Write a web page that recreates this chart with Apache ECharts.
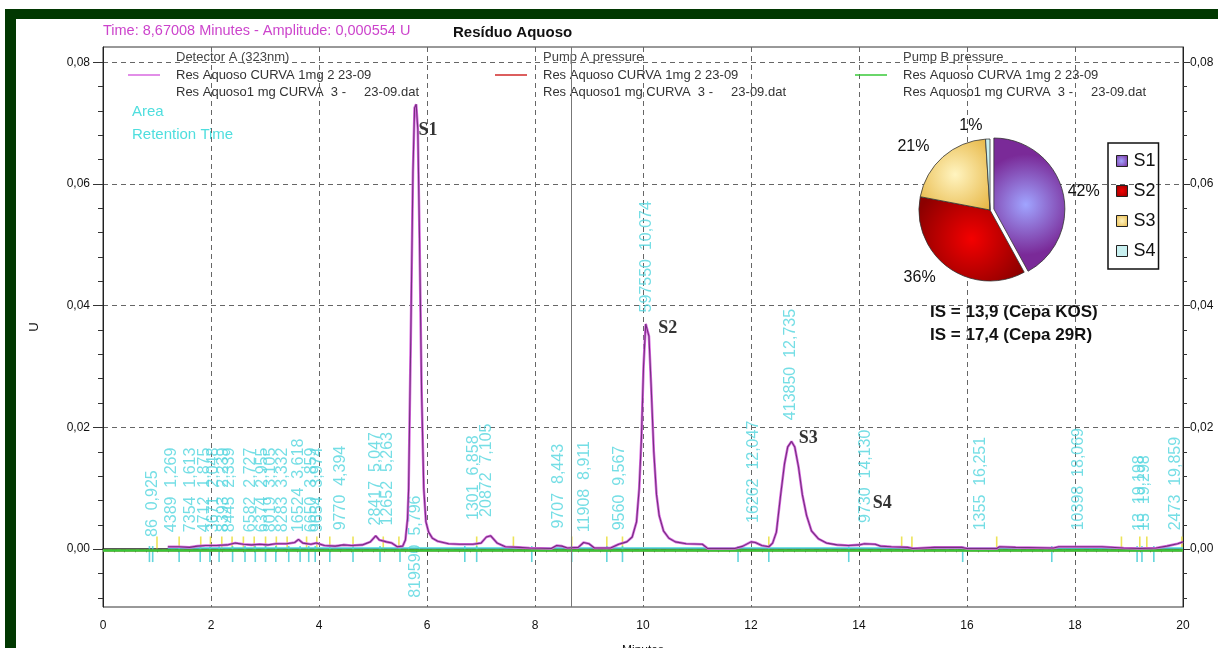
<!DOCTYPE html>
<html>
<head>
<meta charset="utf-8">
<title>Resíduo Aquoso</title>
<script src="https://cdn.jsdelivr.net/npm/echarts@6/dist/echarts.min.js"></script>
<style>
  html, body { margin: 0; padding: 0; background: #fff; }
  #app { width: 1218px; height: 648px; }
</style>
</head>
<body>
<div id="app"></div>
<script>
// chromatogram trace (minutes / U)
const traceTimes = [
  1.20, 1.40, 1.60, 1.75, 1.90, 2.10, 2.30, 2.45, 2.60, 2.75, 2.90, 3.05, 3.20, 3.40, 3.55, 3.62,
  3.70, 3.85, 3.95, 4.10, 4.30, 4.45, 4.60, 4.80, 4.95, 5.05, 5.12, 5.25, 5.35, 5.45, 5.55, 5.60,
  5.64, 5.66, 5.70, 5.74, 5.77, 5.80, 5.83, 5.86, 5.90, 5.94, 5.98, 6.03, 6.10, 6.20, 6.40, 6.60,
  6.85, 7.00, 7.10, 7.18, 7.30, 7.45, 7.70, 7.90, 8.30, 8.40, 8.50, 8.60, 8.80, 8.90, 9.00, 9.10,
  9.40, 9.55, 9.70, 9.80, 9.88, 9.93, 9.97, 10.01, 10.05, 10.08, 10.11, 10.15, 10.20, 10.25, 10.30, 10.38,
  10.48, 10.60, 10.80, 11.10, 11.20, 11.70, 11.85, 12.00, 12.08, 12.20, 12.33, 12.40, 12.47, 12.55, 12.62, 12.68,
  12.75, 12.81, 12.88, 12.95, 13.03, 13.12, 13.25, 13.40, 13.60, 13.80, 14.00, 14.10, 14.30, 14.40, 14.60, 14.90,
  15.00, 15.40, 15.90, 16.00, 16.55, 16.60, 16.90, 17.60, 17.70, 18.50, 18.90, 19.20, 19.50, 19.70, 19.90, 20.00
];
const traceValues = [
  0.0004, 0.0004, 0.0003, 0.0005, 0.0006, 0.0006, 0.0007, 0.0010, 0.0008, 0.0007, 0.0008, 0.0007, 0.0009, 0.0009, 0.0011, 0.0016,
  0.0010, 0.0008, 0.0010, 0.0006, 0.0005, 0.0007, 0.0006, 0.0007, 0.0012, 0.0022, 0.0015, 0.0012, 0.0010, 0.0004, 0.0005, 0.0015,
  0.0050, 0.0100, 0.0350, 0.0620, 0.0725, 0.0731, 0.0690, 0.0520, 0.0260, 0.0100, 0.0045, 0.0028, 0.0018, 0.0013, 0.0009, 0.0008,
  0.0008, 0.0010, 0.0020, 0.0022, 0.0010, 0.0004, 0.0003, 0.0002, 0.0001, 0.0006, 0.0005, 0.0002, 0.0003, 0.0011, 0.0009, 0.0002,
  0.0002, 0.0008, 0.0012, 0.0020, 0.0045, 0.0100, 0.0180, 0.0300, 0.0370, 0.0372, 0.0350, 0.0270, 0.0160, 0.0090, 0.0055, 0.0030,
  0.0018, 0.0012, 0.0009, 0.0008, 0.0001, 0.0001, 0.0005, 0.0012, 0.0011, 0.0006, 0.0004, 0.0010, 0.0028, 0.0090, 0.0140, 0.0168,
  0.0177, 0.0168, 0.0135, 0.0090, 0.0055, 0.0030, 0.0017, 0.0010, 0.0007, 0.0006, 0.0007, 0.0009, 0.0008, 0.0005, 0.0004, 0.0003,
  0.0001, 0.0003, 0.0003, 0.0001, 0.0001, 0.0004, 0.0003, 0.0002, 0.0004, 0.0004, 0.0002, 0.0001, 0.0002, 0.0005, 0.0009, 0.0012
];

// pump pressure traces (flat, pump A hidden under pump B)
const pumpTimes = [0, 20];
const pumpAValues = [-0.0002, -0.0002];
const pumpBValues = [-0.0002, -0.0002];

// integration baseline
const baselineTimes = [1.2, 20];
const baselineValues = [0.0002, 0.0002];

// peak table: retention time, area, height where the label starts
const peakTimes = [0.925, 1.269, 1.613, 1.875, 2.048, 2.239, 2.339, 2.727, 2.955, 3.105, 3.332, 3.618,
  3.859, 3.974, 4.394, 5.047, 5.263, 5.796, 6.858, 7.105, 8.443, 8.911, 9.567, 10.074, 12.047,
  12.735, 14.130, 16.251, 18.069, 19.198, 19.298, 19.859];
const peakAreas = [86, 4389, 7354, 4712, 3671, 8393, 8445, 6582, 6374, 8019, 8283, 16524,
  6650, 9654, 9770, 28417, 12652, 819590, 1301, 20872, 9707, 11908, 9560, 597550, 16262,
  413850, 9730, 1355, 10398, 13, 15, 2473];
const peakLabelBase = [0.0020, 0.0028, 0.0028, 0.0028, 0.0028, 0.0028, 0.0028, 0.0028, 0.0028, 0.0028, 0.0028, 0.0028,
  0.0028, 0.0028, 0.0031, 0.0039, 0.0039, -0.0080, 0.0048, 0.0053, 0.0034, 0.0028, 0.0031, 0.0389, 0.0043,
  0.0212, 0.0043, 0.0031, 0.0031, 0.0030, 0.0030, 0.0031];

// integration marks
const peakStartMarks = [1.00, 1.41, 1.81, 1.99, 2.20, 2.39, 2.60, 2.80, 3.01, 3.21, 3.41, 3.77, 3.96, 4.20,
  4.63, 5.19, 5.48, 6.92, 7.60, 8.68, 9.33, 9.62, 12.33, 14.79, 14.98, 16.55, 18.86, 19.20, 19.33, 19.98];
const peakEndMarks = [0.86, 0.92, 1.41, 1.80, 1.98, 2.15, 2.40, 2.63, 2.82, 3.01, 3.20, 3.44, 3.65, 3.81,
  3.93, 4.20, 4.63, 5.13, 5.50, 6.70, 6.92, 7.94, 8.68, 9.33, 9.62, 11.76, 12.33, 13.81, 15.92, 17.57,
  19.15, 19.24, 19.46];

// named peaks
const tagNames = ['S1', 'S2', 'S3', 'S4'];
const tagTimes = [6.02, 10.46, 13.06, 14.43];
const tagLevels = [0.0688, 0.0363, 0.0182, 0.0076];

// pie of peak shares
const pieNames = ['S1', 'S2', 'S3', 'S4'];
const piePercents = [42, 36, 21, 1];

// axis ticks
const yMajor = [0, 0.02, 0.04, 0.06, 0.08];
const yMinor = [-0.008, -0.004, 0, 0.004, 0.008, 0.012, 0.016, 0.02, 0.024, 0.028, 0.032, 0.036,
  0.04, 0.044, 0.048, 0.052, 0.056, 0.06, 0.064, 0.068, 0.072, 0.076, 0.08];

const cursorTime = 8.67008;
const cursorAmplitude = 0.000554;

const comma = (v, d) => v.toFixed(d).replace('.', ',');
const pair = (xs, ys) => xs.map((x, i) => [x, ys[i]]);

const FONT = 'Liberation Sans';
const Y_MIN = -0.0095, Y_MAX = 0.0825;

const legendText = function(name) {
  return '{h|' + name + '}\n{t|Res Aquoso CURVA 1mg 2 23-09}\n{t|Res Aquoso1 mg CURVA  3 -     23-09.dat}';
};
const legendRich = {
  h: { fontFamily: FONT, fontSize: 13, color: '#444', lineHeight: 17.5 },
  t: { fontFamily: FONT, fontSize: 13, color: '#333', lineHeight: 17.5 }
};
function lineLegend(name, left) {
  return {
    data: [name], left: left, top: 51, padding: 0, itemWidth: 32, itemHeight: 10,
    icon: 'path://M0,5 L32,5 L32,6.5 L0,6.5 Z',
    formatter: legendText,
    textStyle: { rich: legendRich, padding: [0, 0, 0, 11] },
    selectedMode: false
  };
}

function yAxisPart(pos, ticks, labels, len) {
  return {
    type: 'value', position: pos, min: Y_MIN, max: Y_MAX,
    axisLine: { show: labels, lineStyle: { color: '#222' } },
    axisTick: { show: true, customValues: ticks, length: len, lineStyle: { color: '#333' } },
    axisLabel: labels ? {
      customValues: yMajor, color: '#111', fontFamily: FONT, fontSize: 12,
      margin: pos === 'left' ? 13 : 7,
      formatter: v => comma(v, 2)
    } : { show: false },
    splitLine: { show: labels && pos === 'left', lineStyle: { color: '#666', type: [5, 4] } }
  };
}

const chart = echarts.init(document.getElementById('app'));
chart.setOption({
  animation: false,
  backgroundColor: '#fff',
  title: [
    { text: 'Resíduo Aquoso', left: 448, top: 20, textStyle: { fontFamily: FONT, fontSize: 15, fontWeight: 'bold', color: '#111' } },
    {
      text: 'Time: ' + comma(cursorTime, 5) + ' Minutes - Amplitude: ' + comma(cursorAmplitude, 6) + ' U',
      left: 98, top: 18, textStyle: { fontFamily: FONT, fontSize: 14.5, fontWeight: 'normal', color: '#cc44cc' }
    }
  ],
  legend: [
    lineLegend('Detector A (323nm)', 128),
    lineLegend('Pump A pressure', 495),
    lineLegend('Pump B pressure', 855),
    {
      data: pieNames, orient: 'vertical', left: 1108, top: 143, itemGap: 12,
      itemWidth: 11, itemHeight: 11, icon: 'rect', selectedMode: false,
      borderColor: '#111', borderWidth: 1.5, padding: [9, 3, 9, 8],
      itemStyle: { borderColor: '#222', borderWidth: 1 },
      textStyle: { fontFamily: FONT, fontSize: 18, color: '#111', padding: [0, 0, 0, 1] }
    }
  ],
  grid: {
    left: 103, right: 35, top: 47, bottom: 41, outerBoundsMode: 'none',
    show: true, borderColor: '#333', borderWidth: 1, backgroundColor: '#fff'
  },
  xAxis: {
    type: 'value', min: 0, max: 20, interval: 2,
    name: 'Minutes', nameLocation: 'middle', nameGap: 38,
    nameTextStyle: { fontFamily: FONT, fontSize: 12, color: '#111' },
    axisLine: { lineStyle: { color: '#222', width: 1.5 } },
    axisTick: { length: 6, lineStyle: { color: '#222' } },
    minorTick: { show: true, splitNumber: 10, length: 3, lineStyle: { color: '#333' } },
    axisLabel: { color: '#111', fontFamily: FONT, fontSize: 12, margin: 13 },
    splitLine: { show: true, lineStyle: { color: '#666', type: [5, 4] } }
  },
  yAxis: [
    Object.assign(yAxisPart('left', yMajor, true, 10), {
      name: 'U', nameLocation: 'middle', nameGap: 62, nameRotate: 90,
      nameTextStyle: { fontFamily: FONT, fontSize: 13, color: '#111' }
    }),
    yAxisPart('left', yMinor, false, 5),
    yAxisPart('right', yMajor, true, 7),
    yAxisPart('right', yMinor, false, 4)
  ],
  graphic: [
    // window frame
    { type: 'rect', left: 5, top: 9, shape: { width: 1213, height: 10 }, style: { fill: '#013801' } },
    { type: 'rect', left: 5, top: 9, shape: { width: 11, height: 639 }, style: { fill: '#013801' } },
    { type: 'text', left: 132, top: 104, style: { text: 'Area', fill: '#4fdede', font: '15px "Liberation Sans"' } },
    { type: 'text', left: 132, top: 127, style: { text: 'Retention Time', fill: '#4fdede', font: '15px "Liberation Sans"' } },
    {
      type: 'text', left: 930, top: 301,
      style: { text: 'IS = 13,9 (Cepa KOS)\nIS = 17,4 (Cepa 29R)', fill: '#111', font: 'bold 17px "Liberation Sans"', lineHeight: 23 }
    }
  ],
  series: [
    {
      name: 'Pump A pressure', type: 'line', symbol: 'none', color: '#d02828',
      lineStyle: { width: 2 }, data: pair(pumpTimes, pumpAValues)
    },
    {
      name: 'Pump B pressure', type: 'line', symbol: 'none', color: '#38c838',
      lineStyle: { width: 2.5 }, data: pair(pumpTimes, pumpBValues)
    },
    {
      name: 'baseline', type: 'line', symbol: 'none', color: '#48d8d8',
      lineStyle: { width: 1.5 }, data: pair(baselineTimes, baselineValues)
    },
    {
      name: 'Detector A (323nm)', type: 'line', symbol: 'none', color: '#d868e0',
      lineStyle: { width: 2.6 }, data: pair(traceTimes, traceValues),
      markLine: {
        silent: true, symbol: 'none', label: { show: false },
        lineStyle: { color: '#777', type: 'solid', width: 1 },
        data: [{ xAxis: cursorTime }]
      }
    },
    {
      name: 'core', type: 'line', symbol: 'none', color: '#74307e',
      lineStyle: { width: 1.1 }, data: pair(traceTimes, traceValues)
    },
    {
      name: 'starts', type: 'scatter', symbol: 'rect', symbolSize: [1.6, 12], color: '#e8dc30',
      data: peakStartMarks.map(t => [t, 0.0011])
    },
    {
      name: 'ends', type: 'scatter', symbol: 'rect', symbolSize: [1.6, 16], color: '#3ccad2',
      data: peakEndMarks.map(t => [t, -0.0008])
    },
    {
      name: 'peakLabels', type: 'scatter', symbolSize: 0,
      data: peakTimes.map((t, i) => ({ value: [t, peakLabelBase[i]], label: { formatter: peakAreas[i] + '  ' + comma(t, 3) } })),
      label: {
        show: true, position: 'inside', rotate: 90, align: 'left', verticalAlign: 'middle',
        color: '#52d6de', fontFamily: FONT, fontSize: 16
      }
    },
    {
      name: 'tags', type: 'scatter', symbolSize: 0,
      data: tagTimes.map((t, i) => ({ name: tagNames[i], value: [t, tagLevels[i]] })),
      label: {
        show: true, position: 'inside', formatter: '{b}',
        color: '#000', fontFamily: 'Liberation Serif', fontWeight: 'bold', fontSize: 18
      }
    },
    {
      name: 'shares', type: 'pie', center: [990, 210], radius: 71, startAngle: 90,
      selectedMode: 'single', selectedOffset: 4,
      itemStyle: { borderColor: '#333', borderWidth: 0.8 },
      label: { position: 'outside', formatter: '{c}%', fontFamily: FONT, fontSize: 16, color: '#111' },
      labelLine: { show: false, length: 13, length2: 0 },
      data: [
        { name: pieNames[0], value: piePercents[0], selected: true, labelLine: { length: 0 },
          itemStyle: { color: { type: 'radial', x: 0.45, y: 0.5, r: 0.7, colorStops: [{ offset: 0, color: '#a0a4ff' }, { offset: 1, color: '#7a2a98' }] } } },
        { name: pieNames[1], value: piePercents[1],
          itemStyle: { color: { type: 'radial', x: 0.5, y: 0.5, r: 0.7, colorStops: [{ offset: 0, color: '#f40000' }, { offset: 1, color: '#8c0000' }] } } },
        { name: pieNames[2], value: piePercents[2],
          itemStyle: { color: { type: 'radial', x: 0.5, y: 0.5, r: 0.7, colorStops: [{ offset: 0, color: '#fff4c0' }, { offset: 1, color: '#e6b440' }] } } },
        { name: pieNames[3], value: piePercents[3], itemStyle: { color: '#c8f0f0' } }
      ]
    }
  ]
});
</script>
</body>
</html>
